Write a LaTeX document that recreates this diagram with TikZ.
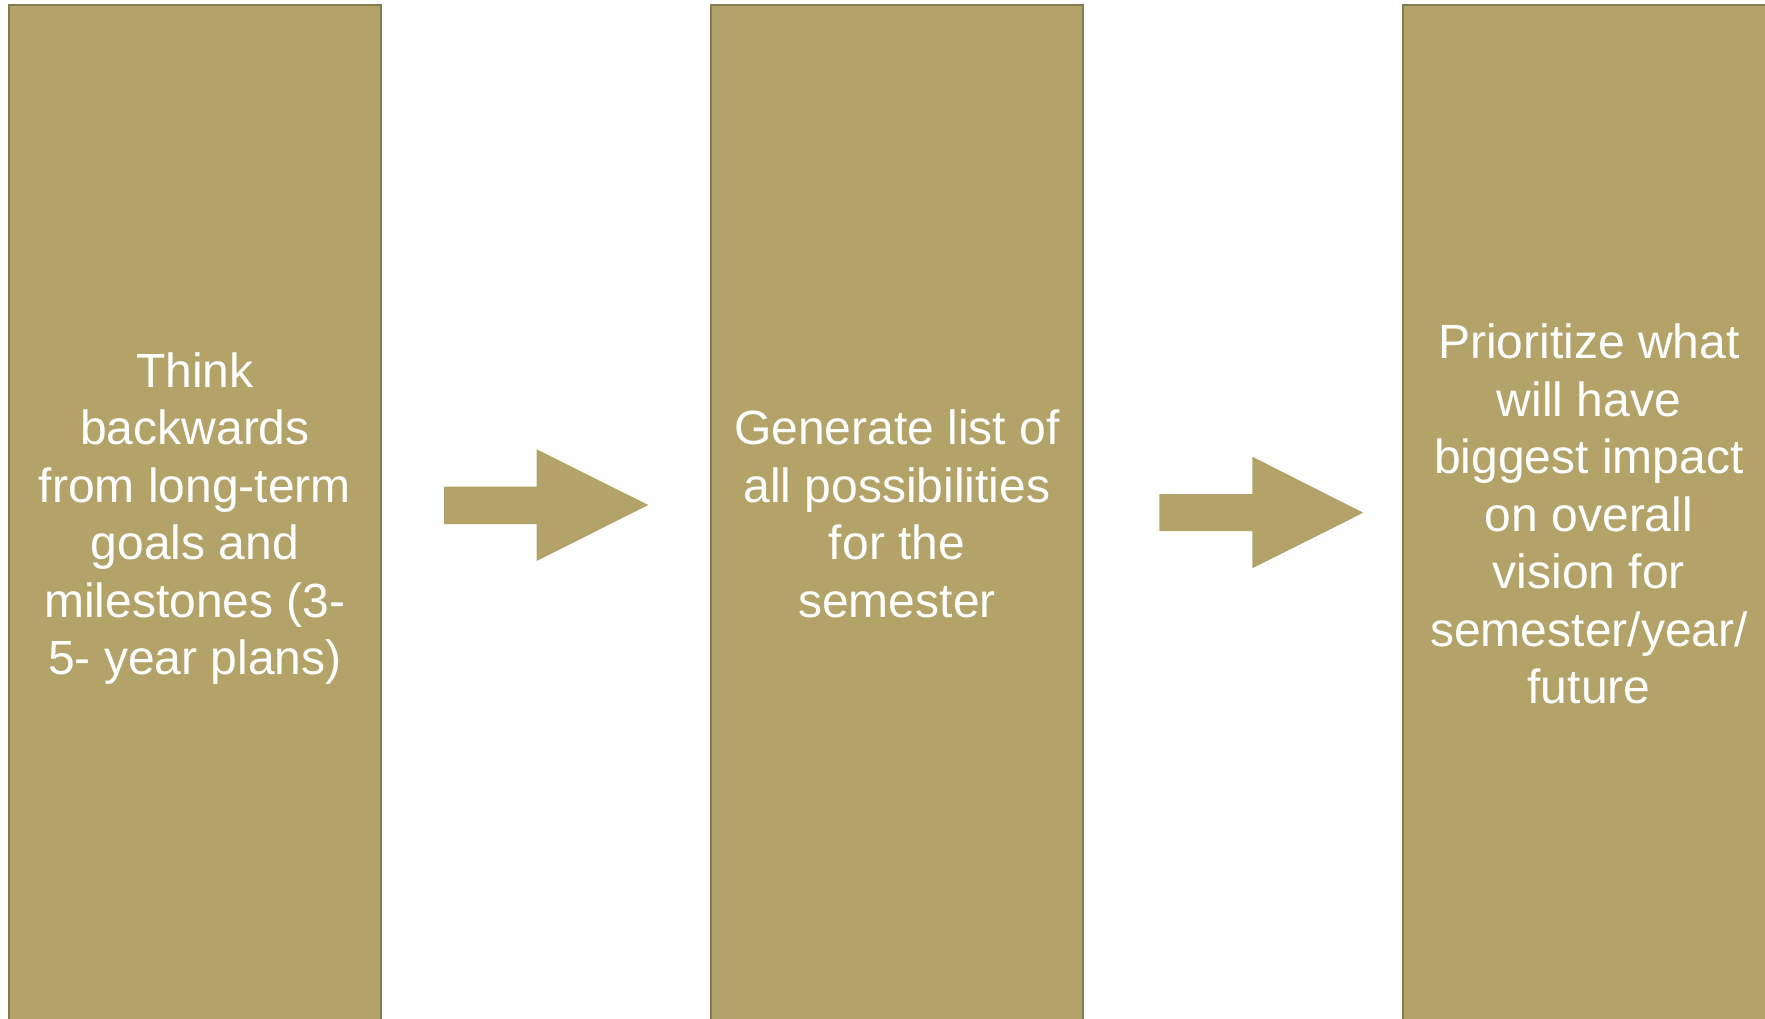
\documentclass[tikz,border=0pt]{standalone}
\usepackage{fontspec}
\setmainfont{Liberation Sans}
\definecolor{gold}{HTML}{B3A369}
\definecolor{goldline}{HTML}{857B52}
\begin{document}
\begin{tikzpicture}[x=1pt,y=-1pt,
  box/.style={draw=goldline,line width=2pt,fill=gold,rectangle,
    minimum width=372pt,minimum height=1029pt,inner sep=0pt,
    text=white,align=center,
    font=\fontsize{48}{57.5}\selectfont},
  blockarrow/.style={fill=gold,draw=none}]
\useasboundingbox (0,0) rectangle (1765,1018);
\clip (0,0) rectangle (1765,1018);
\node[box] (b1) at (195,519.5) {\strut Think\\backwards\\from long-term\\goals and\\milestones (3-\\5- year plans)\strut};
\node[box] (b2) at (897,519.5) {\strut Generate list of\\all possibilities\\for the\\semester\strut};
\node[box] (b3) at (1589,519.5) {\strut Prioritize what\\will have\\biggest impact\\on overall\\vision for\\semester/year/\\future\strut};
\fill[blockarrow] (444,486.7) -- (536.7,486.7) -- (536.7,449.3) -- (648.3,505) -- (536.7,561) -- (536.7,524) -- (444,524) -- cycle;
\fill[blockarrow] (1159.3,494) -- (1252.3,494) -- (1252.3,456.7) -- (1363.3,512.7) -- (1252.3,568.3) -- (1252.3,531) -- (1159.3,531) -- cycle;
\end{tikzpicture}
\end{document}
